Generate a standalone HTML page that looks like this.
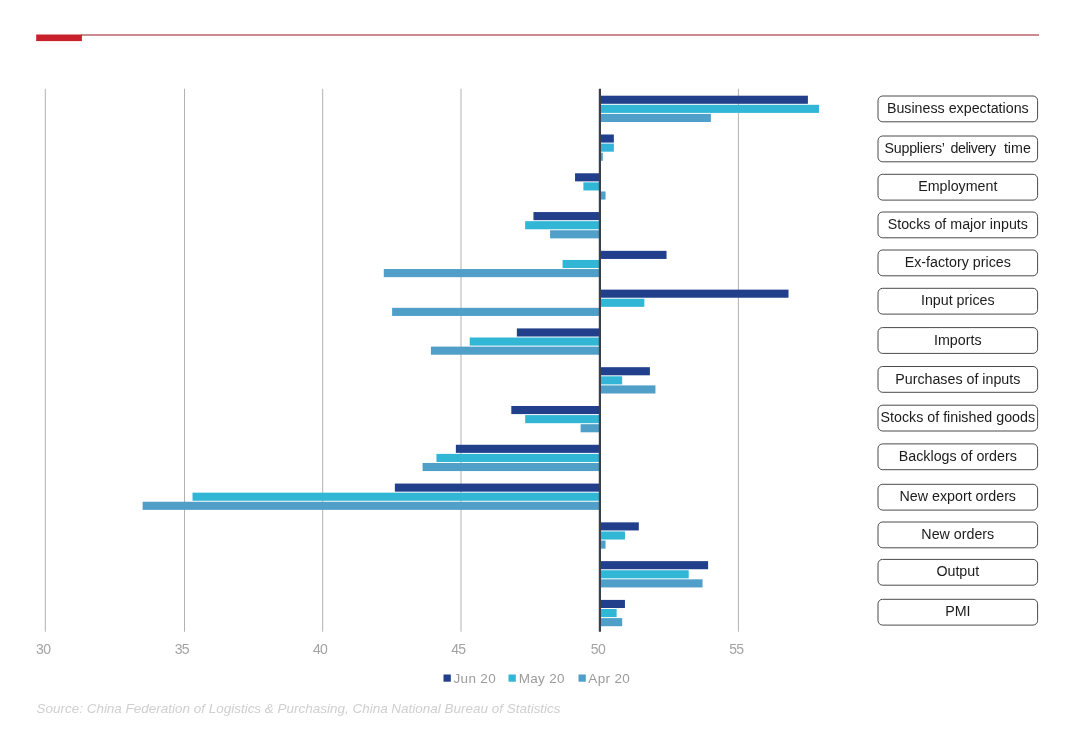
<!DOCTYPE html>
<html lang="en">
<head>
<meta charset="utf-8">
<title>China PMI sub-indices</title>
<style>
html,body{margin:0;padding:0;background:#fff;}
body{width:1080px;height:748px;overflow:hidden;position:relative;font-family:"Liberation Sans",Arial,Helvetica,sans-serif;}
svg{position:absolute;left:0;top:0;display:block;}
text{font-family:"Liberation Sans",Arial,Helvetica,sans-serif;}
.ax{font-size:14px;fill:#a3a3a3;letter-spacing:-0.6px;}
.lg{font-size:13.5px;fill:#9c9c9c;letter-spacing:0.33px;}
.lb{font-size:14.25px;fill:#1c1c1c;text-anchor:middle;}
.src{font-size:13.47px;fill:#cfcfcf;font-style:italic;}
</style>
</head>
<body>
<svg width="1080" height="748" viewBox="0 0 1080 748">
<rect x="0" y="0" width="1080" height="748" fill="#ffffff"/>
<!-- header rule -->
<rect x="81" y="34.3" width="958" height="1.4" fill="#b85a62"/>
<rect x="36.2" y="34.5" width="45.7" height="6.6" fill="#c8212b"/>
<!-- gridlines -->
<g stroke="#b2b2b2" stroke-width="1">
<line x1="45.30" y1="88.75" x2="45.30" y2="631.75"/>
<line x1="184.50" y1="88.75" x2="184.50" y2="631.75"/>
<line x1="322.70" y1="88.75" x2="322.70" y2="631.75"/>
<line x1="461.00" y1="88.75" x2="461.00" y2="631.75"/>
<line x1="738.40" y1="88.75" x2="738.40" y2="631.75"/>
</g>
<!-- bars -->
<rect x="600.00" y="95.70" width="207.90" height="8.1" fill="#223f8b"/>
<rect x="600.00" y="104.80" width="218.99" height="8.1" fill="#31b6d6"/>
<rect x="600.00" y="113.90" width="110.88" height="8.1" fill="#4f9fc8"/>
<rect x="600.00" y="134.49" width="13.86" height="8.1" fill="#223f8b"/>
<rect x="600.00" y="143.59" width="13.86" height="8.1" fill="#31b6d6"/>
<rect x="600.00" y="152.69" width="2.77" height="8.1" fill="#4f9fc8"/>
<rect x="575.05" y="173.27" width="24.95" height="8.1" fill="#223f8b"/>
<rect x="583.37" y="182.37" width="16.63" height="8.1" fill="#31b6d6"/>
<rect x="600.00" y="191.47" width="5.54" height="8.1" fill="#4f9fc8"/>
<rect x="533.47" y="212.06" width="66.53" height="8.1" fill="#223f8b"/>
<rect x="525.16" y="221.16" width="74.84" height="8.1" fill="#31b6d6"/>
<rect x="550.10" y="230.26" width="49.90" height="8.1" fill="#4f9fc8"/>
<rect x="600.00" y="250.84" width="66.53" height="8.1" fill="#223f8b"/>
<rect x="562.58" y="259.94" width="37.42" height="8.1" fill="#31b6d6"/>
<rect x="383.78" y="269.04" width="216.22" height="8.1" fill="#4f9fc8"/>
<rect x="600.00" y="289.63" width="188.50" height="8.1" fill="#223f8b"/>
<rect x="600.00" y="298.73" width="44.35" height="8.1" fill="#31b6d6"/>
<rect x="392.10" y="307.83" width="207.90" height="8.1" fill="#4f9fc8"/>
<rect x="516.84" y="328.41" width="83.16" height="8.1" fill="#223f8b"/>
<rect x="469.72" y="337.51" width="130.28" height="8.1" fill="#31b6d6"/>
<rect x="430.91" y="346.61" width="169.09" height="8.1" fill="#4f9fc8"/>
<rect x="600.00" y="367.20" width="49.90" height="8.1" fill="#223f8b"/>
<rect x="600.00" y="376.30" width="22.18" height="8.1" fill="#31b6d6"/>
<rect x="600.00" y="385.40" width="55.44" height="8.1" fill="#4f9fc8"/>
<rect x="511.30" y="405.99" width="88.70" height="8.1" fill="#223f8b"/>
<rect x="525.16" y="415.09" width="74.84" height="8.1" fill="#31b6d6"/>
<rect x="580.60" y="424.19" width="19.40" height="8.1" fill="#4f9fc8"/>
<rect x="455.86" y="444.77" width="144.14" height="8.1" fill="#223f8b"/>
<rect x="436.45" y="453.87" width="163.55" height="8.1" fill="#31b6d6"/>
<rect x="422.59" y="462.97" width="177.41" height="8.1" fill="#4f9fc8"/>
<rect x="394.87" y="483.56" width="205.13" height="8.1" fill="#223f8b"/>
<rect x="192.52" y="492.66" width="407.48" height="8.1" fill="#31b6d6"/>
<rect x="142.62" y="501.76" width="457.38" height="8.1" fill="#4f9fc8"/>
<rect x="600.00" y="522.34" width="38.81" height="8.1" fill="#223f8b"/>
<rect x="600.00" y="531.44" width="24.95" height="8.1" fill="#31b6d6"/>
<rect x="600.00" y="540.54" width="5.54" height="8.1" fill="#4f9fc8"/>
<rect x="600.00" y="561.13" width="108.11" height="8.1" fill="#223f8b"/>
<rect x="600.00" y="570.23" width="88.70" height="8.1" fill="#31b6d6"/>
<rect x="600.00" y="579.33" width="102.56" height="8.1" fill="#4f9fc8"/>
<rect x="600.00" y="599.91" width="24.95" height="8.1" fill="#223f8b"/>
<rect x="600.00" y="609.01" width="16.63" height="8.1" fill="#31b6d6"/>
<rect x="600.00" y="618.11" width="22.18" height="8.1" fill="#4f9fc8"/>
<!-- axis -->
<rect x="598.80" y="88.75" width="2.2" height="543.0" fill="#3b3f4a"/>
<!-- axis labels -->
<text class="ax" x="36.10" y="654.3">30</text>
<text class="ax" x="174.70" y="654.3">35</text>
<text class="ax" x="312.90" y="654.3">40</text>
<text class="ax" x="451.20" y="654.3">45</text>
<text class="ax" x="590.80" y="654.3">50</text>
<text class="ax" x="729.20" y="654.3">55</text>
<!-- legend -->
<rect x="443.5" y="674.5" width="7.3" height="7.2" fill="#223f8b"/>
<text class="lg" x="453.5" y="682.7">Jun 20</text>
<rect x="508.5" y="674.5" width="7.3" height="7.2" fill="#31b6d6"/>
<text class="lg" x="518.7" y="682.7">May 20</text>
<rect x="578.5" y="674.5" width="7.3" height="7.2" fill="#4f9fc8"/>
<text class="lg" x="588.3" y="682.7">Apr 20</text>
<!-- category labels -->
<rect x="878" y="96" width="159.6" height="25.8" rx="4.6" ry="4.6" fill="#fff" stroke="#4a4a4a" stroke-width="1"/>
<text class="lb" x="957.8" y="113.0">Business expectations</text>
<rect x="878" y="136" width="159.6" height="25.8" rx="4.6" ry="4.6" fill="#fff" stroke="#4a4a4a" stroke-width="1"/>
<text class="lb" style="text-anchor:start" y="153.0" xml:space="preserve"><tspan x="884.6" letter-spacing="-0.25">Suppliers’ </tspan><tspan x="950.6" letter-spacing="-0.5">delivery </tspan><tspan x="1003.9">time</tspan></text>
<rect x="878" y="174.3" width="159.6" height="25.8" rx="4.6" ry="4.6" fill="#fff" stroke="#4a4a4a" stroke-width="1"/>
<text class="lb" x="957.8" y="191.3">Employment</text>
<rect x="878" y="212" width="159.6" height="25.8" rx="4.6" ry="4.6" fill="#fff" stroke="#4a4a4a" stroke-width="1"/>
<text class="lb" x="957.8" y="229.0">Stocks of major inputs</text>
<rect x="878" y="250" width="159.6" height="25.8" rx="4.6" ry="4.6" fill="#fff" stroke="#4a4a4a" stroke-width="1"/>
<text class="lb" x="957.8" y="267.0">Ex-factory prices</text>
<rect x="878" y="288.3" width="159.6" height="25.8" rx="4.6" ry="4.6" fill="#fff" stroke="#4a4a4a" stroke-width="1"/>
<text class="lb" x="957.8" y="305.3">Input prices</text>
<rect x="878" y="327.6" width="159.6" height="25.8" rx="4.6" ry="4.6" fill="#fff" stroke="#4a4a4a" stroke-width="1"/>
<text class="lb" x="957.8" y="344.6">Imports</text>
<rect x="878" y="366.5" width="159.6" height="25.8" rx="4.6" ry="4.6" fill="#fff" stroke="#4a4a4a" stroke-width="1"/>
<text class="lb" x="957.8" y="383.5">Purchases of inputs</text>
<rect x="878" y="405.2" width="159.6" height="25.8" rx="4.6" ry="4.6" fill="#fff" stroke="#4a4a4a" stroke-width="1"/>
<text class="lb" x="957.8" y="422.2">Stocks of finished goods</text>
<rect x="878" y="443.9" width="159.6" height="25.8" rx="4.6" ry="4.6" fill="#fff" stroke="#4a4a4a" stroke-width="1"/>
<text class="lb" x="957.8" y="460.9">Backlogs of orders</text>
<rect x="878" y="484.3" width="159.6" height="25.8" rx="4.6" ry="4.6" fill="#fff" stroke="#4a4a4a" stroke-width="1"/>
<text class="lb" x="957.8" y="501.3">New export orders</text>
<rect x="878" y="522" width="159.6" height="25.8" rx="4.6" ry="4.6" fill="#fff" stroke="#4a4a4a" stroke-width="1"/>
<text class="lb" x="957.8" y="539.0">New orders</text>
<rect x="878" y="559.4" width="159.6" height="25.8" rx="4.6" ry="4.6" fill="#fff" stroke="#4a4a4a" stroke-width="1"/>
<text class="lb" x="957.8" y="576.4">Output</text>
<rect x="878" y="599.3" width="159.6" height="25.8" rx="4.6" ry="4.6" fill="#fff" stroke="#4a4a4a" stroke-width="1"/>
<text class="lb" x="957.8" y="616.3">PMI</text>
<!-- source -->
<text class="src" x="36.5" y="713">Source: China Federation of Logistics &amp; Purchasing, China National Bureau of Statistics</text>
</svg>
</body>
</html>
